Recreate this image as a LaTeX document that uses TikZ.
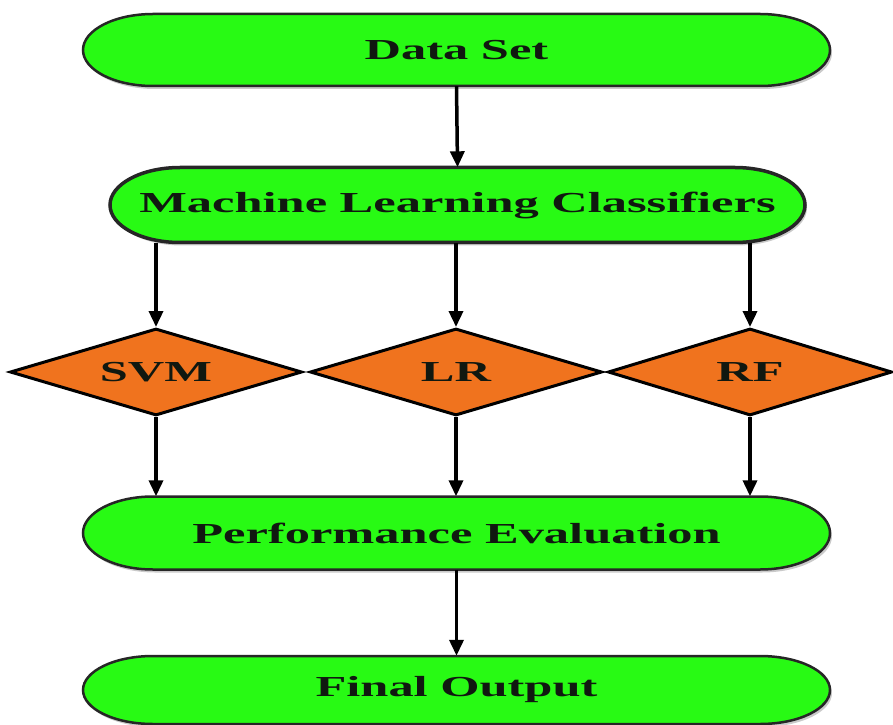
\documentclass[tikz,border=0pt]{standalone}
\usepackage{fontspec}
\newfontfamily\lblfont[FakeStretch=1.74]{Liberation Serif}
\usetikzlibrary{arrows.meta,shapes.geometric,shadows}
\definecolor{termgreen}{RGB}{40,250,20}
\definecolor{decorange}{RGB}{240,115,30}
\definecolor{txt}{RGB}{16,24,16}
\tikzset{
  termshape/.style={fill=termgreen, draw=black!85, line width=2.5pt,
    drop shadow={shadow xshift=2pt, shadow yshift=-3pt, opacity=0.35, fill=black!60}},
  termtext/.style={rectangle, inner sep=0pt, text=txt,
    font=\lblfont\bfseries\fontsize{29}{34}\selectfont},
  decision/.style={diamond, aspect=3.36, fill=decorange, draw=black, line width=3pt,
    inner sep=0pt, text=txt, font=\lblfont\bfseries\fontsize{29}{34}\selectfont},
  flow/.style={line width=3.5pt, draw=black, -{Triangle[length=16pt,width=14pt]}}
}
% name, cx, cy, half width, half height, border width, text
\newcommand\terminalnode[7]{%
  \path[termshape, line width=#6]
    ({#2-#4+70},{#3+#5}) -- ({#2+#4-70},{#3+#5})
    arc[start angle=90, end angle=-90, x radius=70pt, y radius=#5pt]
    -- ({#2-#4+70},{#3-#5})
    arc[start angle=270, end angle=90, x radius=70pt, y radius=#5pt] -- cycle;
  \node[termtext, minimum width={2*#4}, minimum height={2*#5}] (#1) at (#2,#3) {#7};
}
\begin{document}
\begin{tikzpicture}[x=1pt,y=1pt]
\useasboundingbox (0,0) rectangle (893,724);
\terminalnode{ds}{456.5}{674}{373.5}{36}{2.5pt}{Data Set}
\terminalnode{mlc}{457.5}{519}{347.5}{37.5}{3.5pt}{Machine Learning Classifiers}
\terminalnode{pe}{456.5}{191}{373.5}{36.5}{2.5pt}{Performance Evaluation}
\terminalnode{fo}{456.5}{34}{373.5}{34}{2.5pt}{Final Output}
\node[decision, minimum width=292pt, minimum height=87pt] (svm) at (156,352) {SVM};
\node[decision, minimum width=292pt, minimum height=87pt] (lr) at (456,352) {LR};
\node[decision, minimum width=284pt, minimum height=87pt] (rf) at (750,352) {RF};
\draw[flow] (ds.south) -- (mlc.north);
\draw[flow] (svm.north |- mlc.south) -- (svm.north);
\draw[flow] (lr.north |- mlc.south) -- (lr.north);
\draw[flow] (rf.north |- mlc.south) -- (rf.north);
\draw[flow] (svm.south) -- (svm.south |- pe.north);
\draw[flow] (lr.south) -- (lr.south |- pe.north);
\draw[flow] (rf.south) -- (rf.south |- pe.north);
\draw[flow] (pe.south) -- (fo.north);
\end{tikzpicture}
\end{document}
